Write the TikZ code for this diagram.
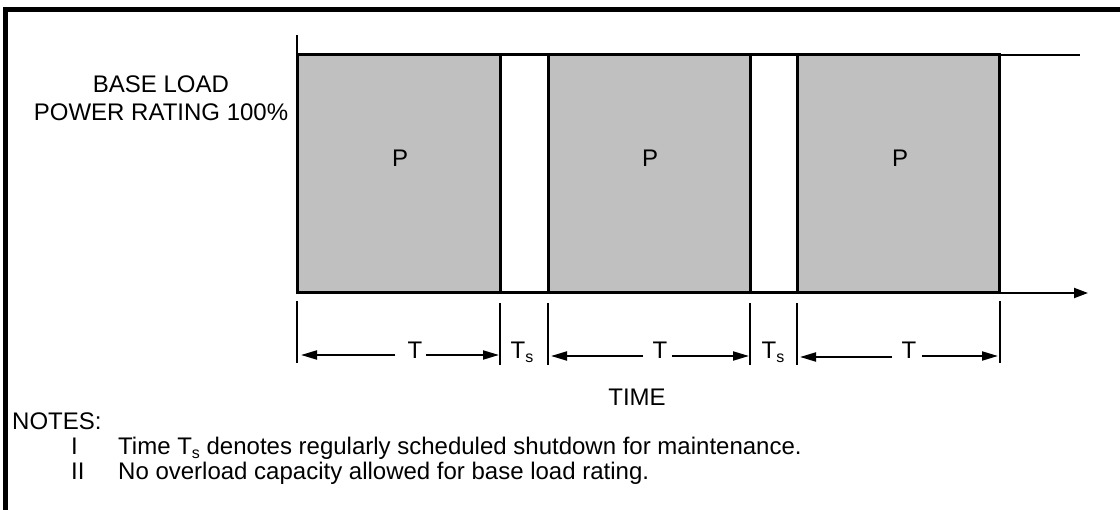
\documentclass[tikz,border=0pt]{standalone}
\usepackage{fontspec}
\setmainfont{Liberation Sans}
\usetikzlibrary{arrows.meta}
\definecolor{boxgray}{RGB}{192,192,192}
\newcommand\subs[1]{\raisebox{-4pt}{\fontsize{16}{16}\selectfont #1}}
\begin{document}
\begin{tikzpicture}[x=1pt,y=-1pt,
  every node/.style={font=\fontsize{24}{28}\selectfont, inner sep=0pt},
  frame/.style={line width=4.5pt},
  pbox/.style={fill=boxgray, draw=black, line width=3pt},
  axisline/.style={line width=2pt},
  thickline/.style={line width=3pt},
  tickline/.style={line width=2.4pt},
  axisarrow/.style={line width=2pt, -{Triangle[length=14pt,width=10pt]}},
  dimarr/.style={line width=2pt, -{Triangle[length=16pt,width=9pt]}},
]
\useasboundingbox (0,0) rectangle (1120,510);
% frame
\draw[frame] (5.5,512) -- (5.5,9.5) -- (1122,9.5);

% coordinates of the chart
\coordinate (O) at (297,293);
\coordinate (Ytop) at (297,35);
\coordinate (Xend) at (1088,293);
\coordinate (TopL) at (297,55);
\coordinate (TopR) at (1080,55);

% thin lines
\draw[axisline] (TopL) -- (TopR);
\draw[axisarrow] (O) -- (Xend);
\draw[axisline] (Ytop) -- (O);

% thick lines over the gaps
\draw[thickline] (297,55) -- (1000,55);
\draw[thickline] (297,293) -- (1000,293);

% P boxes
\draw[pbox] (297,55) rectangle (500,293);
\draw[pbox] (548,55) rectangle (750,293);
\draw[pbox] (797,55) rectangle (999,293);
\node (P1) at (400,158) {P};
\node (P2) at (650,158) {P};
\node (P3) at (900,158) {P};

% y label
\node[align=center] (ylab) at (161,98) {BASE LOAD\\POWER RATING 100\%};

% dimension ticks
\coordinate (k1) at (297,301);
\coordinate (k2) at (500,303);
\coordinate (k3) at (548,303);
\coordinate (k4) at (750,303);
\coordinate (k5) at (797,303);
\coordinate (k6) at (1000,301);
\foreach \k in {k1,k2,k3,k4,k5,k6} \draw[tickline] (\k) -- ++(0,62);

% T labels and arrows
\node[anchor=base] (T1) at (415,359) {T};
\node[anchor=base] (T2) at (660,359) {T};
\node[anchor=base] (T3) at (909,359) {T};
\coordinate (L1) at (301,355);
\coordinate (R1) at (499,355);
\coordinate (L2) at (551,356);
\coordinate (R2) at (749,356);
\coordinate (L3) at (800,357);
\coordinate (R3) at (998,356);
\draw[dimarr] ([xshift=-12pt,yshift=4pt]T1.base west) -- (L1);
\draw[dimarr] ([xshift=3pt,yshift=4pt]T1.base east) -- (R1);
\draw[dimarr] ([xshift=-9pt,yshift=3pt]T2.base west) -- (L2);
\draw[dimarr] ([xshift=4pt,yshift=3pt]T2.base east) -- (R2);
\draw[dimarr] ([xshift=-9pt,yshift=2pt]T3.base west) -- (L3);
\draw[dimarr] ([xshift=5pt,yshift=3pt]T3.base east) -- (R3);

% Ts labels
\node[anchor=base] (S1) at (522,359) {T\subs{s}};
\node[anchor=base] (S2) at (773,359) {T\subs{s}};

% TIME
\node (time) at (637,397) {TIME};

% notes
\node[anchor=base west] (notes) at (12,430) {NOTES:};
\node[anchor=base west] (n1) at (71,455) {I};
\node[anchor=base west] (n2) at (71,480) {II};
\node[anchor=base west] (n1t) at (118,455) {Time T\subs{s} denotes regularly scheduled shutdown for maintenance.};
\node[anchor=base west] (n2t) at (118,480) {No overload capacity allowed for base load rating.};
\end{tikzpicture}
\end{document}
